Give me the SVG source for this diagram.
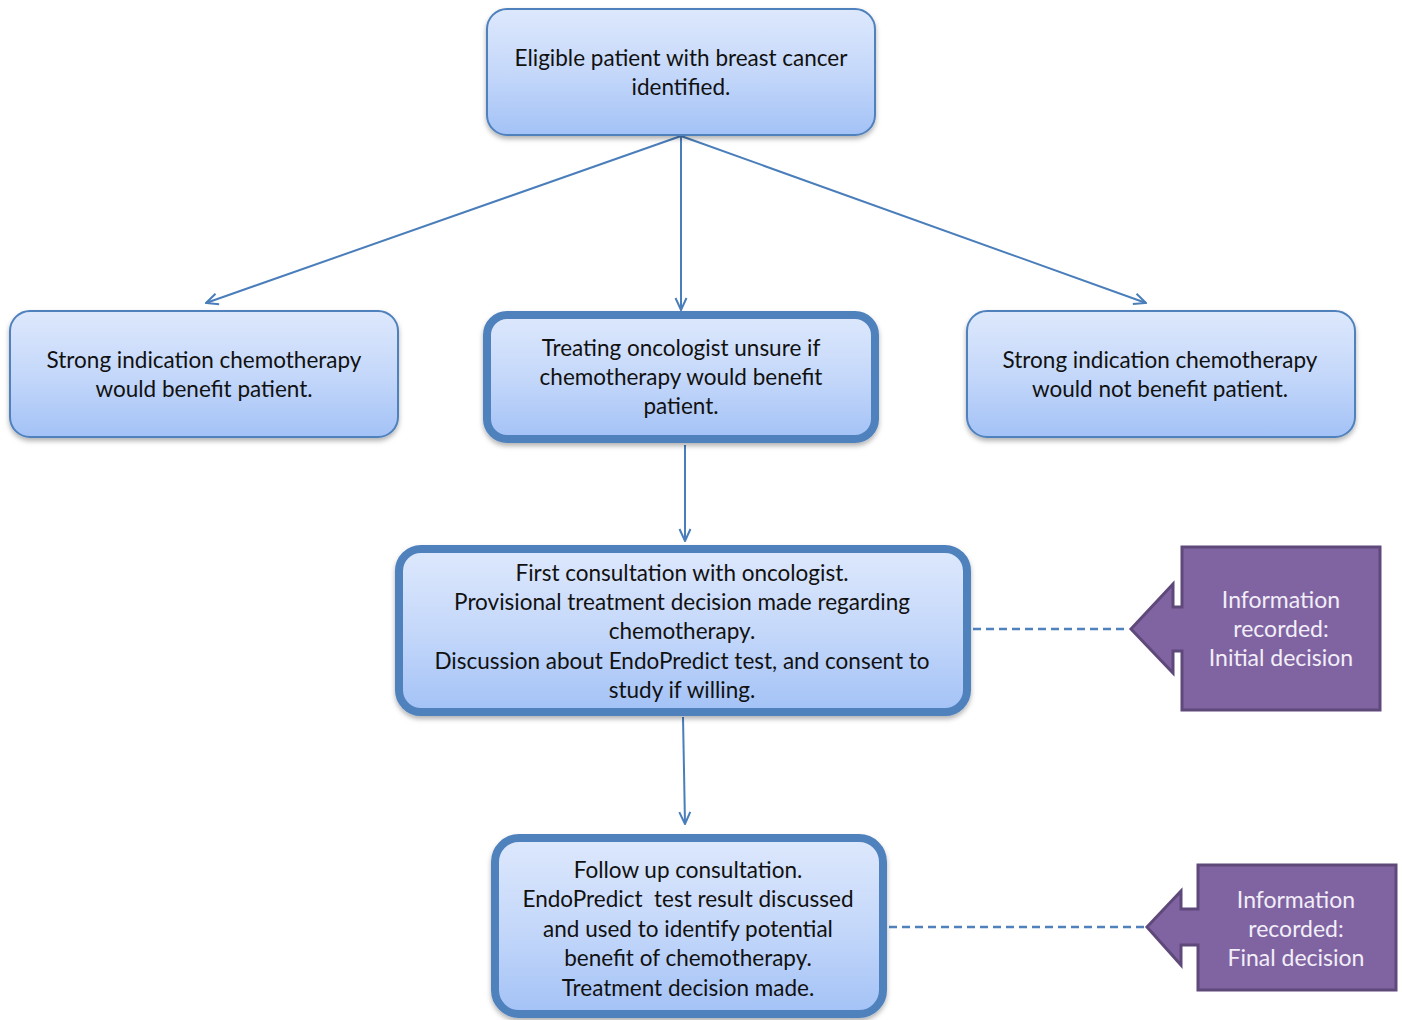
<svg xmlns="http://www.w3.org/2000/svg" width="1402" height="1020" viewBox="0 0 1402 1020">
<defs>
<linearGradient id="g" x1="0" y1="0" x2="0" y2="1">
<stop offset="0" stop-color="#dde8fc"/>
<stop offset="0.5" stop-color="#c5d8fa"/>
<stop offset="1" stop-color="#a3c2f6"/>
</linearGradient>
<filter id="sh" x="-10%" y="-10%" width="120%" height="130%">
<feDropShadow dx="0" dy="3" stdDeviation="2.5" flood-color="#000" flood-opacity="0.3"/>
</filter>
<marker id="ah" viewBox="0 0 14 14" refX="13" refY="7" markerWidth="14" markerHeight="14" markerUnits="userSpaceOnUse" orient="auto">
<path d="M1,1.5 L13,7 L1,12.5" fill="none" stroke="#4a7ebb" stroke-width="2"/>
</marker>
</defs>
<style>
.box{fill:url(#g);stroke:#4f81bd;filter:url(#sh)}
.thin{stroke-width:2}
.thick{stroke-width:8}
.t{font-family:Lato,"Open Sans",sans-serif;font-size:22.5px;fill:#111;text-anchor:middle}
.w{font-family:Lato,"Open Sans",sans-serif;font-size:23px;fill:#f2eef8;text-anchor:middle}
.pre{white-space:pre}
.c{fill:none;stroke:#4a7ebb;stroke-width:2}
.d{fill:none;stroke:#4f81bd;stroke-width:2.5;stroke-dasharray:8 5}
.p{fill:#8064a2;stroke:#5f497a;stroke-width:3}
</style>
<g id="connectors">
<line class="c" x1="681" y1="136" x2="206" y2="303" marker-end="url(#ah)"/>
<line class="c" x1="681" y1="136" x2="681" y2="310" marker-end="url(#ah)"/>
<line class="c" x1="681" y1="136" x2="1146" y2="303" marker-end="url(#ah)"/>
<line class="c" x1="685" y1="445" x2="685" y2="541" marker-end="url(#ah)"/>
<line class="c" x1="683" y1="717" x2="685" y2="824" marker-end="url(#ah)"/>
<line class="d" x1="973" y1="629" x2="1129" y2="629"/>
<line class="d" x1="889" y1="927" x2="1146" y2="927"/>
</g>
<g id="n1">
<rect class="box thin" x="487" y="9" width="388" height="126" rx="20"/>
<text class="t" x="681" y="66">Eligible patient with breast cancer</text>
<text class="t" x="681" y="95">identified.</text>
</g>
<g id="n2">
<rect class="box thin" x="10" y="311" width="388" height="126" rx="20"/>
<text class="t" x="204" y="368">Strong indication chemotherapy</text>
<text class="t" x="204" y="397">would benefit patient.</text>
</g>
<g id="n3">
<rect class="box thick" x="487" y="315" width="388" height="124" rx="20"/>
<text class="t" x="681" y="356">Treating oncologist unsure if</text>
<text class="t" x="681" y="385">chemotherapy would benefit</text>
<text class="t" x="681" y="414">patient.</text>
</g>
<g id="n4">
<rect class="box thin" x="967" y="311" width="388" height="126" rx="20"/>
<text class="t" x="1160" y="368">Strong indication chemotherapy</text>
<text class="t" x="1160" y="397">would not benefit patient.</text>
</g>
<g id="n5">
<rect class="box thick" x="399" y="549" width="568" height="163" rx="22"/>
<text class="t" x="682" y="581">First consultation with oncologist.</text>
<text class="t" x="682" y="610">Provisional treatment decision made regarding</text>
<text class="t" x="682" y="639">chemotherapy.</text>
<text class="t" x="682" y="669">Discussion about EndoPredict test, and consent to</text>
<text class="t" x="682" y="698">study if willing.</text>
</g>
<g id="n6">
<rect class="box thick" x="495" y="838" width="388" height="176" rx="24"/>
<text class="t" x="688" y="878">Follow up consultation.</text>
<text class="t pre" x="688" y="907">EndoPredict  test result discussed</text>
<text class="t" x="688" y="937">and used to identify potential</text>
<text class="t" x="688" y="966">benefit of chemotherapy.</text>
<text class="t" x="688" y="996">Treatment decision made.</text>
</g>
<g id="n7">
<path class="p" d="M1182,547 H1380 V710 H1182 V651 H1173 V673 L1131,629 L1173,584 V607 H1182 Z"/>
<text class="w" x="1281" y="608">Information</text>
<text class="w" x="1281" y="637">recorded:</text>
<text class="w" x="1281" y="666">Initial decision</text>
</g>
<g id="n8">
<path class="p" d="M1198,865 H1396 V990 H1198 V945 H1181 V965 L1147,927 L1181,891 V909 H1198 Z"/>
<text class="w" x="1296" y="908">Information</text>
<text class="w" x="1296" y="937">recorded:</text>
<text class="w" x="1296" y="966">Final decision</text>
</g>
</svg>
